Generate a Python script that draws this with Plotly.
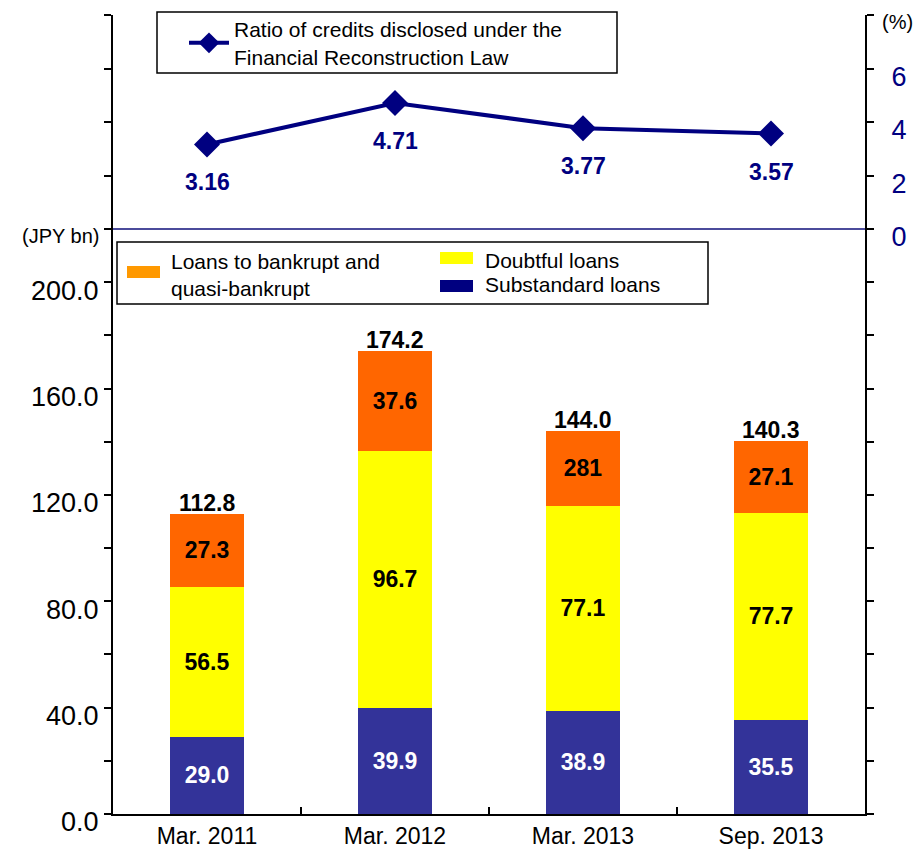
import plotly.graph_objects as go

# ---------------- data ----------------
categories = ["Mar. 2011", "Mar. 2012", "Mar. 2013", "Sep. 2013"]
substandard = [29.0, 39.9, 38.9, 35.5]
doubtful = [56.5, 96.7, 77.1, 77.7]
bankrupt = [27.3, 37.6, 28.1, 27.1]
bankrupt_text = ["27.3", "37.6", "281", "27.1"]
totals = [112.8, 174.2, 144.0, 140.3]
ratio = [3.16, 4.71, 3.77, 3.57]

left_tickvals = [0, 20, 40, 60, 80, 100, 120, 140, 160, 180, 200]
left_ticktext = ["0.0", "", "40.0", "", "80.0", "", "120.0", "", "160.0", "", "200.0"]
right_tickvals = [0, 2, 4, 6, 8]
right_ticktext = ["0", "2", "4", "6", ""]

FONT = "Liberation Sans, Arial, sans-serif"
ORANGE = "#FF6600"
YELLOW = "#FFFF00"
BLUE = "#333399"
NAVY = "#000080"

# pixel -> paper helpers (plot area: x 113..865, y 15..814)
def px(x):
    return (x - 113) / 752.0

def py(y):
    return (814 - y) / 799.0

fig = go.Figure()

bar_font = dict(family=FONT, size=23, color="black")
fig.add_trace(go.Bar(x=categories, y=substandard, name="Substandard loans",
                     marker=dict(color=BLUE, line=dict(width=0)),
                     text=[f"{v:.1f}" for v in substandard], texttemplate="<b>%{text}</b>",
                     textposition="inside", insidetextanchor="middle", textangle=0,
                     textfont=dict(family=FONT, size=23, color="white"),
                     showlegend=False, xaxis="x", yaxis="y"))
fig.add_trace(go.Bar(x=categories, y=doubtful, name="Doubtful loans",
                     marker=dict(color=YELLOW, line=dict(width=0)),
                     text=[f"{v:.1f}" for v in doubtful], texttemplate="<b>%{text}</b>",
                     textposition="inside", insidetextanchor="middle", textangle=0,
                     textfont=bar_font, showlegend=False, xaxis="x", yaxis="y"))
fig.add_trace(go.Bar(x=categories, y=bankrupt, name="Loans to bankrupt and quasi-bankrupt",
                     marker=dict(color=ORANGE, line=dict(width=0)),
                     text=bankrupt_text, texttemplate="<b>%{text}</b>",
                     textposition="inside", insidetextanchor="middle", textangle=0,
                     textfont=bar_font, showlegend=False, xaxis="x", yaxis="y"))

fig.add_trace(go.Scatter(x=categories, y=ratio, mode="lines+markers",
                         name="Ratio of credits disclosed under the<br>Financial Reconstruction Law",
                         line=dict(color=NAVY, width=4),
                         marker=dict(symbol="diamond", size=20, color=NAVY),
                         xaxis="x2", yaxis="y2", showlegend=True))

annotations = []
for c, t in zip(categories, totals):
    annotations.append(dict(x=c, y=t, xref="x", yref="y", text=f"<b>{t:.1f}</b>",
                            showarrow=False, yanchor="bottom", yshift=-4,
                            font=dict(family=FONT, size=23, color="black")))
for c, r in zip(categories, ratio):
    annotations.append(dict(x=c, y=r, xref="x2", yref="y2", text=f"<b>{r:.2f}</b>",
                            showarrow=False, yanchor="middle", yshift=-38,
                            font=dict(family=FONT, size=23, color=NAVY)))

annotations += [
    dict(x=px(101), y=py(236), xref="paper", yref="paper", text="(JPY bn)", showarrow=False,
         xanchor="right", yanchor="middle", font=dict(family=FONT, size=20, color="black")),
    dict(x=px(897), y=py(22), xref="paper", yref="paper", text="(%)", showarrow=False,
         xanchor="center", yanchor="middle", font=dict(family=FONT, size=20, color="black")),
    dict(x=px(169), y=py(274.5), xref="paper", yref="paper",
         text="Loans to bankrupt and<br>quasi-bankrupt", showarrow=False, align="left",
         xanchor="left", yanchor="middle", font=dict(family=FONT, size=21, color="black")),
    dict(x=px(483), y=py(260), xref="paper", yref="paper", text="Doubtful loans", showarrow=False,
         xanchor="left", yanchor="middle", font=dict(family=FONT, size=21, color="black")),
    dict(x=px(483), y=py(285), xref="paper", yref="paper", text="Substandard loans", showarrow=False,
         xanchor="left", yanchor="middle", font=dict(family=FONT, size=21, color="black")),
]

shapes = [
    # divider between panels
    dict(type="line", xref="paper", yref="paper", x0=0, x1=1, y0=py(229), y1=py(229),
         line=dict(color="#4B4B9B", width=2), layer="above"),
    # line legend box
    dict(type="rect", xref="paper", yref="paper", x0=px(157), x1=px(617), y0=py(73), y1=py(12),
         line=dict(color="black", width=1.5), fillcolor="white", layer="above"),
    # bar legend box
    dict(type="rect", xref="paper", yref="paper", x0=px(117), x1=px(708), y0=py(304), y1=py(242),
         line=dict(color="black", width=1.5), fillcolor="white", layer="above"),
    dict(type="rect", xref="paper", yref="paper", x0=px(127), x1=px(160), y0=py(278), y1=py(266),
         line=dict(width=0), fillcolor="#FF9900", layer="above"),
    dict(type="rect", xref="paper", yref="paper", x0=px(440), x1=px(473), y0=py(264), y1=py(252),
         line=dict(width=0), fillcolor=YELLOW, layer="above"),
    dict(type="rect", xref="paper", yref="paper", x0=px(440), x1=px(473), y0=py(292), y1=py(280),
         line=dict(width=0), fillcolor=NAVY, layer="above"),
]

split = py(229)

fig.update_layout(
    width=920, height=850,
    margin=dict(l=113, r=55, t=15, b=36, autoexpand=False),
    paper_bgcolor="white", plot_bgcolor="white",
    barmode="stack", bargap=0.606,
    font=dict(family=FONT, color="black"),
    showlegend=True,
    legend=dict(x=px(184), y=py(43), xanchor="left", yanchor="middle",
                bgcolor="rgba(0,0,0,0)", borderwidth=0, itemwidth=40,
                font=dict(family=FONT, size=21, color="black"), valign="middle"),
    xaxis=dict(domain=[0, 1], anchor="y", type="category", categoryorder="array",
               categoryarray=categories, automargin=False,
               showline=True, linecolor="black", linewidth=2, mirror=False,
               ticks="inside", tickson="boundaries", ticklen=7, tickwidth=2, tickcolor="black",
               tickfont=dict(family=FONT, size=23, color="black"), showgrid=False, zeroline=False),
    xaxis2=dict(domain=[0, 1], anchor="y2", matches="x", visible=False, type="category",
                categoryorder="array", categoryarray=categories),
    yaxis=dict(domain=[0, split], anchor="x", range=[0, 220], side="left", automargin=False,
               tickvals=left_tickvals, ticktext=left_ticktext,
               showline=True, linecolor="black", linewidth=2, mirror="ticks",
               ticks="outside", ticklen=7, tickwidth=2, tickcolor="black",
               ticklabelshift=8,
               tickfont=dict(family=FONT, size=27, color="black"), showgrid=False, zeroline=False),
    yaxis2=dict(domain=[split, 1], anchor="x2", range=[0, 8], side="right", automargin=False,
                tickvals=right_tickvals, ticktext=right_ticktext,
                showline=True, linecolor="black", linewidth=2, mirror="ticks",
                ticks="outside", ticklen=7, tickwidth=2, tickcolor="black",
                ticklabelshift=8, ticklabelstandoff=12,
                tickfont=dict(family=FONT, size=27, color=NAVY), showgrid=False, zeroline=False),
    annotations=annotations,
    shapes=shapes,
)

fig.write_html("out.html")
